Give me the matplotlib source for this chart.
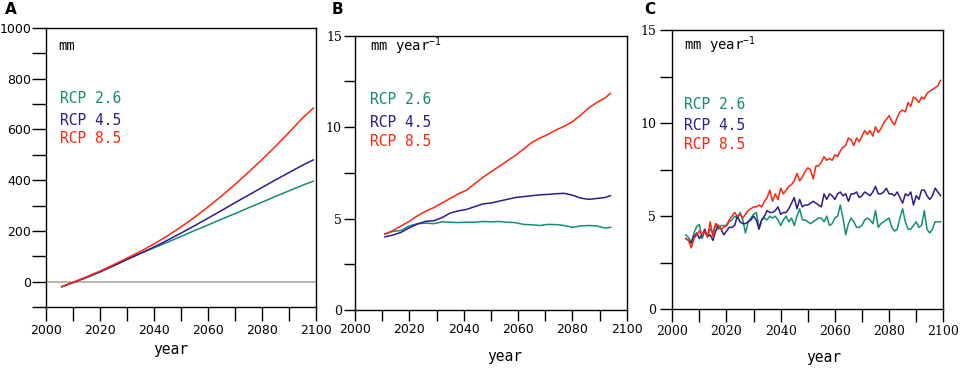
import matplotlib
matplotlib.use("Agg")
import matplotlib.pyplot as plt
from matplotlib.ticker import MultipleLocator

# ---------------- data ----------------
years_a = [2006, 2010, 2015, 2020, 2025, 2030, 2035, 2040, 2045, 2050,
           2055, 2060, 2065, 2070, 2075, 2080, 2085, 2090, 2095, 2099]
a_rcp26 = [-20, -4, 16, 38, 62, 87, 111, 133, 155, 178,
           201, 223, 246, 268, 291, 313, 336, 358, 380, 396]
a_rcp45 = [-20, -4, 16, 38, 62, 87, 111, 136, 163, 191,
           220, 250, 280, 311, 341, 371, 401, 430, 459, 480]
a_rcp85 = [-20, -3, 18, 41, 66, 92, 119, 148, 180, 215,
           253, 294, 337, 383, 431, 481, 533, 588, 645, 684]

years_b = [2011, 2014, 2017, 2020, 2023, 2026, 2029, 2032, 2035, 2038,
           2041, 2044, 2047, 2050, 2053, 2056, 2059, 2062, 2065, 2068,
           2071, 2074, 2077, 2080, 2083, 2086, 2089, 2092, 2094]
b_rcp26 = [4.15, 4.30, 4.35, 4.60, 4.72, 4.75, 4.72, 4.82, 4.80, 4.78,
           4.80, 4.80, 4.84, 4.82, 4.84, 4.80, 4.78, 4.68, 4.66, 4.62,
           4.68, 4.67, 4.62, 4.52, 4.60, 4.62, 4.60, 4.48, 4.52]
b_rcp45 = [4.00, 4.10, 4.25, 4.50, 4.70, 4.85, 4.88, 5.05, 5.30, 5.42,
           5.50, 5.65, 5.80, 5.85, 5.95, 6.05, 6.15, 6.20, 6.25, 6.30,
           6.32, 6.36, 6.38, 6.28, 6.12, 6.05, 6.10, 6.15, 6.25]
b_rcp85 = [4.15, 4.35, 4.60, 4.85, 5.15, 5.40, 5.60, 5.85, 6.10, 6.35,
           6.55, 6.90, 7.25, 7.55, 7.85, 8.15, 8.45, 8.80, 9.15, 9.40,
           9.60, 9.85, 10.05, 10.30, 10.65, 11.05, 11.35, 11.60, 11.85]

years_c = list(range(2005, 2100))
c_rcp26 = [4.0, 3.85, 3.6, 4.1, 4.45, 4.55, 3.8, 4.2, 3.9, 4.3,
           4.1, 4.6, 4.3, 4.5, 4.5, 4.5, 4.7, 4.8, 5.0, 4.9,
           5.2, 4.8, 4.1, 4.7, 4.9, 5.1, 5.2, 4.4, 4.8, 4.9,
           4.8, 5.0, 4.9, 5.0, 4.8, 4.5, 4.8, 5.0, 4.7, 4.9,
           4.5, 5.0, 5.4, 4.8, 4.8, 4.7, 4.6, 4.7, 4.8, 4.9,
           4.9, 4.7, 5.0, 4.5, 4.6, 4.9, 5.0, 5.6, 4.9, 4.0,
           4.6, 4.9, 4.7, 4.4, 4.4, 4.5, 4.8, 4.9, 4.8, 4.6,
           5.3, 4.4, 4.6, 4.7, 4.8, 4.9, 4.4, 4.2, 4.3, 4.9,
           5.4, 4.7, 4.3, 4.3, 4.5, 4.7, 4.4, 4.5, 5.3, 4.3,
           4.1, 4.3, 4.7, 4.7, 4.7]
c_rcp45 = [3.8, 3.7, 3.55, 3.9, 4.1, 3.8, 4.0, 4.3, 3.9, 4.0,
           3.7, 4.2, 4.5, 4.3, 4.0, 4.2, 4.4, 4.4, 4.5, 5.0,
           4.7, 4.6, 4.6, 4.7, 4.8, 5.0, 4.8, 4.3, 4.8, 5.0,
           5.3, 5.2, 5.2, 5.3, 5.5, 5.1, 5.2, 5.2, 5.4, 5.7,
           6.0, 5.4, 5.9, 5.5, 5.6, 5.6, 5.7, 5.8, 5.7, 5.6,
           5.5, 6.2, 5.9, 6.2, 6.1, 5.9, 6.2, 6.3, 6.1, 6.2,
           5.8, 6.2, 6.2, 6.3, 6.0, 6.1, 6.3, 6.2, 6.1, 6.3,
           6.6, 6.2, 6.2, 6.3, 6.5, 6.2, 6.2, 6.1, 6.3, 6.0,
           5.7, 6.2, 6.1, 6.3, 5.6, 6.1, 5.9, 6.4, 6.4, 6.1,
           5.9, 6.1, 6.5, 6.3, 6.1]
c_rcp85 = [3.8, 3.7, 3.3, 3.8, 4.0, 4.2, 4.0, 4.2, 3.9, 4.7,
           3.9, 4.6, 4.5, 4.3, 4.4, 4.5, 4.8, 5.0, 5.2, 5.0,
           5.1, 4.9, 5.1, 5.3, 5.4, 5.5, 5.5, 5.6, 5.5, 5.8,
           6.0, 6.4, 5.8, 6.2, 5.9, 6.5, 6.2, 6.4, 6.6, 6.7,
           6.9, 7.3, 6.9, 7.1, 7.4, 7.6, 7.5, 7.0, 7.7, 7.7,
           7.9, 8.2, 8.0, 8.1, 8.0, 8.3, 8.2, 8.5, 8.7, 8.8,
           9.2, 9.1, 8.8, 9.2, 9.0, 9.3, 9.6, 9.4, 9.6, 9.3,
           9.8, 9.5, 9.7, 10.0, 10.2, 10.4, 10.1, 9.9, 10.3, 10.6,
           10.7, 10.6, 11.1, 10.9, 11.4, 11.3, 11.1, 11.4, 11.3, 11.6,
           11.7, 11.8, 11.9, 12.0, 12.3]

labels = ["RCP 2.6", "RCP 4.5", "RCP 8.5"]
colors = ["#148c78", "#2e1c8c", "#ff250c"]

# ---------------- styling ----------------
plt.rcParams["mathtext.fontset"] = "custom"
plt.rcParams["mathtext.rm"] = "DejaVu Sans Mono"
plt.rcParams["mathtext.default"] = "regular"
MONO = "DejaVu Sans Mono"

fig = plt.figure(figsize=(9.64, 3.68), dpi=100)

axA = fig.add_axes([0.0474, 0.1658, 0.2804, 0.758])
axB = fig.add_axes([0.3683, 0.1576, 0.2819, 0.7454])
axC = fig.add_axes([0.6974, 0.1595, 0.2811, 0.759])


def style(ax, tick_len, pad, font, fsize):
    for s in ax.spines.values():
        s.set_linewidth(1.0)
        s.set_color("black")
    ax.tick_params(which="both", direction="out", length=tick_len, width=1.0,
                   top=False, right=False, pad=pad, labelsize=fsize)
    for t in ax.get_xticklabels() + ax.get_yticklabels():
        t.set_fontfamily(font)
    ax.set_xlim(2000, 2100)
    ax.xaxis.set_major_locator(MultipleLocator(20))
    ax.xaxis.set_minor_locator(MultipleLocator(10))


# Panel A
axA.axhline(0, color="#b5abab", lw=1.3, zorder=1)
for ys, c in zip([a_rcp26, a_rcp45, a_rcp85], colors):
    axA.plot(years_a, ys, color=c, lw=1.1, zorder=3)
axA.set_ylim(-100, 1000)
axA.yaxis.set_major_locator(MultipleLocator(200))
axA.yaxis.set_minor_locator(MultipleLocator(100))
style(axA, 10, 0.5, "DejaVu Sans", 9)
axA.tick_params(axis="x", pad=2)

# Panel B
for ys, c in zip([b_rcp26, b_rcp45, b_rcp85], colors):
    axB.plot(years_b, ys, color=c, lw=1.1)
axB.set_ylim(0, 15)
axB.yaxis.set_major_locator(MultipleLocator(5))
axB.yaxis.set_minor_locator(MultipleLocator(2.5))
style(axB, 8, 1.5, "DejaVu Sans", 9)
for t in axB.get_yticklabels():
    t.set_fontfamily("DejaVu Serif")

# Panel C
for ys, c in zip([c_rcp26, c_rcp45, c_rcp85], colors):
    axC.plot(years_c, ys, color=c, lw=1.1)
axC.set_ylim(0, 15)
axC.yaxis.set_major_locator(MultipleLocator(5))
axC.yaxis.set_minor_locator(MultipleLocator(2.5))
style(axC, 9, 2.5, "DejaVu Serif", 9)

# unit texts
axA.text(0.045, 0.935, "mm", transform=axA.transAxes, family=MONO,
         fontsize=10, va="center", ha="left")
axB.text(0.055, 0.962, "mm year$^{-1}$", transform=axB.transAxes, family=MONO,
         fontsize=10, va="center", ha="left")
axC.text(0.044, 0.945, "mm year$^{-1}$", transform=axC.transAxes, family=MONO,
         fontsize=10, va="center", ha="left")

# legend-like texts
for ax, x, ys in [(axA, 0.053, [0.748, 0.670, 0.605]),
                  (axB, 0.055, [0.766, 0.683, 0.614]),
                  (axC, 0.044, [0.735, 0.657, 0.591])]:
    for lab, c, y in zip(labels, colors, ys):
        ax.text(x, y, lab, transform=ax.transAxes, family=MONO, fontsize=10.5,
                color=c, va="center", ha="left")

# x labels
axA.text(0.462, -0.154, "year", transform=axA.transAxes, family=MONO,
         fontsize=10.5, ha="center", va="center")
axB.text(0.552, -0.171, "year", transform=axB.transAxes, family=MONO,
         fontsize=10.5, ha="center", va="center")
axC.text(0.557, -0.174, "year", transform=axC.transAxes, family=MONO,
         fontsize=10.5, ha="center", va="center")

# panel letters
fig.text(5 / 964, 1 - 10 / 368, "A", fontsize=11, fontweight="bold",
         family="DejaVu Sans", va="center", ha="left")
fig.text(332 / 964, 1 - 9 / 368, "B", fontsize=11, fontweight="bold",
         family="DejaVu Sans", va="center", ha="left")
fig.text(644 / 964, 1 - 9 / 368, "C", fontsize=11, fontweight="bold",
         family="DejaVu Sans", va="center", ha="left")

fig.savefig("out.png", dpi=100)
